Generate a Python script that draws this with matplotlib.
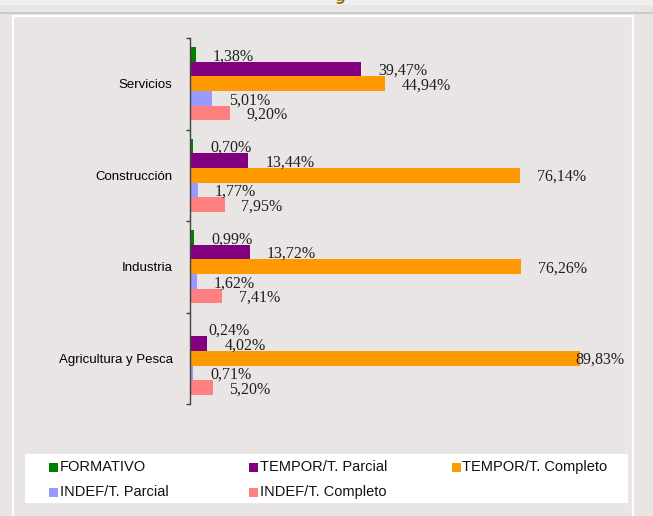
import matplotlib
matplotlib.use('Agg')
import matplotlib.pyplot as plt
from matplotlib.patches import Rectangle
from matplotlib.lines import Line2D

# datos
sectores = ['Servicios', 'Construcción', 'Industria', 'Agricultura y Pesca']
series = ['FORMATIVO', 'TEMPOR/T. Parcial', 'TEMPOR/T. Completo',
          'INDEF/T. Parcial', 'INDEF/T. Completo']
formativo = [1.38, 0.70, 0.99, 0.24]
tempor_parcial = [39.47, 13.44, 13.72, 4.02]
tempor_completo = [44.94, 76.14, 76.26, 89.83]
indef_parcial = [5.01, 1.77, 1.62, 0.71]
indef_completo = [9.20, 7.95, 7.41, 5.20]
valores = [formativo, tempor_parcial, tempor_completo, indef_parcial, indef_completo]
colores = ['#008000', '#800080', '#FF9900', '#9999FF', '#FF8080']

W, H = 653, 516
fondo = '#EAE5E5'

fig = plt.figure(figsize=(W / 100, H / 100), dpi=100, facecolor=fondo)

def px(x0, y0, w, h):
    # caja en pixeles (origen arriba-izquierda) -> fraccion de figura
    return (x0 / W, 1 - (y0 + h) / H, w / W, h / H)

# franja superior y marco blanco del panel
fig.add_artist(Rectangle(px(0, 0, W, 4.5)[:2], W / W, 4.5 / H,
                         transform=fig.transFigure, color='#F0F0F0', lw=0))
fig.add_artist(Rectangle(px(0, 12, W, 2.2)[:2], 1, 2.2 / H,
                         transform=fig.transFigure, color='#C9C9C9', lw=0))
fig.add_artist(Line2D([12.8 / W, 12.8 / W, 632.8 / W, 632.8 / W],
                      [0, 1 - 15.5 / H, 1 - 15.5 / H, 0],
                      transform=fig.transFigure, color='white', lw=1.6))
fig.text(0.52, 1 - 1.0 / H, 'g', color='#A0720A', fontsize=11,
         fontweight='bold', ha='center', va='baseline')

ax = fig.add_axes(px(190, 38, 434, 366))
ax.set_facecolor('none')

n = len(series)
alto = 0.16
for j, (nombre, vals, col) in enumerate(zip(series, valores, colores)):
    pos = [i - 0.4 + alto / 2 + j * alto for i in range(len(sectores))]
    ax.barh(pos, vals, height=alto, color=col, label=nombre, lw=0)

ax.set_xlim(0, 100)
ax.set_ylim(len(sectores) - 0.5, -0.5)

for s in ['top', 'right', 'bottom']:
    ax.spines[s].set_visible(False)
ax.spines['left'].set_color('#404040')
ax.spines['left'].set_linewidth(1.0)
ax.set_xticks([])
ax.set_yticks(range(len(sectores)))
ax.set_yticklabels(sectores, family='Liberation Sans', fontsize=9.5)
ax.set_yticks([i - 0.5 for i in range(len(sectores) + 1)], minor=True)
ax.tick_params(axis='y', which='major', length=0, pad=12.5)
ax.tick_params(axis='y', which='minor', length=3, width=1.0, color='#404040')

# etiquetas de valor
etiquetas = []
for j, vals in enumerate(valores):
    for i, v in enumerate(vals):
        y = i - 0.4 + alto / 2 + j * alto
        t = ax.annotate(f'{v:.2f}%'.replace('.', ','), xy=(v, y),
                        xytext=(12.2, -1.3), textcoords='offset points',
                        ha='left', va='center', fontsize=11.5,
                        family='Liberation Serif', color='#202020',
                        annotation_clip=False)
        etiquetas.append((t, y))

fig.canvas.draw()
r = fig.canvas.get_renderer()
borde = ax.get_window_extent(r).x1
for t, y in etiquetas:
    if t.get_window_extent(r).x1 > borde:
        t.xy = (100, y)
        t.set_position((0, -1.3))
        t.set_ha('right')

# leyenda
fig.add_artist(Rectangle(px(25, 454, 603, 49)[:2], 603 / W, 49 / H,
                         transform=fig.transFigure, color='white', lw=0))
col_x = [49, 249, 452]
fila_y = [467, 492]
for k, (nombre, col) in enumerate(zip(series, colores)):
    x = col_x[k % 3]
    y = fila_y[k // 3]
    fig.add_artist(Rectangle(px(x, y - 4.5, 9, 9)[:2], 9 / W, 9 / H,
                             transform=fig.transFigure, color=col, lw=0))
    fig.text((x + 10.5) / W, 1 - y / H, nombre, family='Liberation Sans',
             fontsize=10.5, va='center', ha='left', color='#111111')

fig.savefig('out.png', dpi=100, facecolor=fondo)
